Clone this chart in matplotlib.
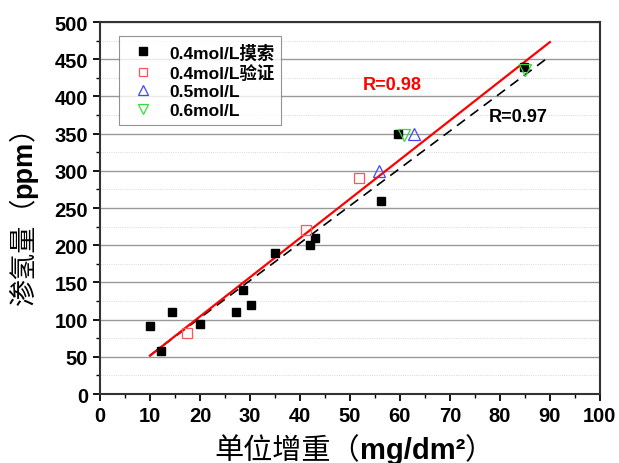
import matplotlib
matplotlib.use('Agg')
import matplotlib.pyplot as plt
from matplotlib.ticker import MultipleLocator

plt.rcParams['font.family'] = ['Liberation Sans', 'Noto Sans CJK SC', 'DejaVu Sans']
plt.rcParams['font.weight'] = 'bold'

# 0.4mol/L 摸索 (black filled squares)
x_explore = [10, 12.2, 14.4, 20, 27.2, 28.6, 30.2, 35, 42, 43, 56.2, 59.6, 84.8]
y_explore = [92, 58, 110, 94, 110, 140, 120, 190, 200, 210, 260, 350, 440]
# 0.4mol/L 验证 (red open squares)
x_verify = [17.5, 41.3, 51.8]
y_verify = [82, 220, 290]
# 0.5mol/L (blue up triangles)
x_05 = [55.9, 62.9]
y_05 = [300, 350]
# 0.6mol/L (green down triangles)
x_06 = [60.8, 85]
y_06 = [348, 436]

# fit lines (endpoints)
fit_red_x = [10, 90]
fit_red_y = [51.5, 473]
fit_blk_x = [10, 90]
fit_blk_y = [52, 454]

xlabel_parts = [('单位增重（', 'normal'), ('mg/dm²', 'bold'), ('）', 'normal')]
ylabel_parts = [('渗氢量（', 'normal'), ('ppm', 'bold'), ('）', 'normal')]


def mixed_label(fig, parts, cx, cy, vertical=False, size=20.5):
    # lay out text pieces with different weights along a common baseline
    r = fig.canvas.get_renderer()
    W, H = fig.bbox.width, fig.bbox.height
    widths = []
    for s, w in parts:
        t = fig.text(0, 0, s, fontsize=size, fontweight=w)
        widths.append(t.get_window_extent(r).width)
        t.remove()
    total = sum(widths)
    pos = -total / 2
    for (s, w), wd in zip(parts, widths):
        if vertical:
            fig.text(cx, cy + pos / H, s, fontsize=size, fontweight=w,
                     rotation=90, rotation_mode='anchor', ha='left', va='baseline')
        else:
            fig.text(cx + pos / W, cy, s, fontsize=size, fontweight=w,
                     ha='left', va='baseline')
        pos += wd


fig = plt.figure(figsize=(6.19, 4.64), dpi=100)
ax = fig.add_axes([0.1616, 0.1487, 0.8074, 0.8017])

ax.plot(fit_blk_x, fit_blk_y, color='black', linestyle=(0, (6, 4)), lw=1.2, zorder=2)
ax.plot(fit_red_x, fit_red_y, color='red', lw=1.6, zorder=3)

ax.plot(x_explore, y_explore, 's', color='black', ms=6.2, ls='none',
        label='0.4mol/L摸索', zorder=4)
ax.plot(x_verify, y_verify, 's', mfc='none', mec='#ff5555', ms=6.8, mew=0.9, ls='none',
        label='0.4mol/L验证', zorder=4)
ax.plot(x_05, y_05, '^', mfc='none', mec='#4444ff', ms=8, mew=0.9, ls='none',
        label='0.5mol/L', zorder=4)
ax.plot(x_06, y_06, 'v', mfc='none', mec='#33dd33', ms=8, mew=0.9, ls='none',
        label='0.6mol/L', zorder=4)

ax.text(58.4, 416, 'R=0.98', color='red', fontsize=13, fontweight='bold',
        ha='center', va='center')
ax.text(83.6, 373, 'R=0.97', color='black', fontsize=13, fontweight='bold',
        ha='center', va='center')

ax.set_xlim(0, 100)
ax.set_ylim(0, 500)
ax.xaxis.set_major_locator(MultipleLocator(10))
ax.xaxis.set_minor_locator(MultipleLocator(5))
ax.yaxis.set_major_locator(MultipleLocator(50))
ax.yaxis.set_minor_locator(MultipleLocator(25))

ax.grid(axis='y', which='major', color='#999999', lw=1.0)
ax.grid(axis='y', which='minor', color='#cccccc', lw=0.6, ls=':')
ax.set_axisbelow(True)

for s in ax.spines.values():
    s.set_linewidth(1.5)
    s.set_color('#333333')
ax.tick_params(which='major', direction='out', length=5, width=1.3,
               labelsize=14.5, top=False, right=False)
ax.tick_params(which='minor', direction='out', length=3, width=1.0,
               top=False, right=False)

mixed_label(fig, xlabel_parts, 354 / 619, 1 - 459 / 464, size=21)
mixed_label(fig, ylabel_parts, 31 / 619, 1 - 210 / 464, vertical=True, size=19.5)

leg = ax.legend(loc='upper left', bbox_to_anchor=(0.02, 0.985), fontsize=12.5,
                frameon=True, fancybox=False, edgecolor='#777777', markerscale=0.85,
                handletextpad=0.5, labelspacing=0.2, borderpad=0.4)
leg.get_frame().set_linewidth(0.8)

fig.savefig('out.png', dpi=100)
